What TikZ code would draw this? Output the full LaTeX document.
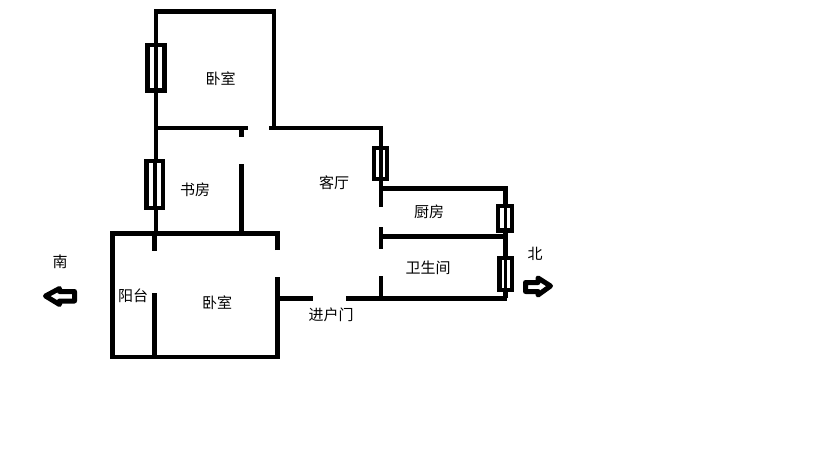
\documentclass[tikz,border=0pt]{standalone}
\usepackage{fontspec}
\newfontfamily\cjk{Noto Sans CJK SC}
\tikzset{
  wall/.style={line width=4.8pt,line cap=butt,line join=miter,black},
  win/.style={draw=black,fill=white,line width=4.4pt,line join=miter},
  arrowshape/.style={draw=black,fill=white,line width=5pt,line join=round},
  lbl/.style={font=\cjk\fontsize{15pt}{17pt}\selectfont,inner sep=0pt,text=black}
}
\begin{document}
\begin{tikzpicture}[x=1pt,y=-1pt]
\useasboundingbox[fill=white] (0,0) rectangle (819,460);
% top bedroom
\draw[wall] (247.7,128) -- (156,128);
\draw[wall] (156,233) -- (156,11.5) -- (274,11.5) -- (274,128);
\draw[wall] (269,128) -- (381,128) -- (381,206.7);
\draw[wall] (241.5,128) -- (241.5,137);
% study
\draw[wall] (241.5,164) -- (241.5,233);
% lower bedroom + balcony
\draw[wall] (277.3,250) -- (277.3,233.3) -- (112.7,233.3) -- (112.7,357) -- (277.3,357) -- (277.3,277);
\draw[wall] (154.7,233) -- (154.7,250.7);
\draw[wall] (154.7,293) -- (154.7,357);
\draw[wall] (277,298.3) -- (313,298.3);
% right part
\draw[wall] (346,298.3) -- (507,298.3);
\draw[wall] (381,188.3) -- (505.3,188.3) -- (505.3,298.3);
\draw[wall] (381,236.3) -- (507,236.3);
\draw[wall] (381,227.3) -- (381,249.3);
\draw[wall] (381,276) -- (381,298);
% windows
\draw[win] (147.5,45.2) rectangle (164.5,90.5);
\draw[wall] (156,45) -- (156,90.7);
\draw[win] (146.5,161.2) rectangle (162.8,207.8);
\draw[wall] (155,161) -- (155,208);
\draw[win] (374.2,148.2) rectangle (386.8,178.8);
\draw[wall,line width=3.6pt] (380.7,148) -- (380.7,179);
\draw[win] (498.2,206.2) rectangle (511.8,230.5);
\draw[wall,line width=3.6pt] (505.3,206) -- (505.3,230.7);
\draw[win] (499.5,258.2) rectangle (511.8,289.8);
\draw[wall,line width=3.6pt] (505.5,258) -- (505.5,290);
% arrows
\draw[arrowshape] (45.5,296) -- (59.5,288.5) -- (59.5,291.5) -- (74.5,291.5) -- (74.5,301) -- (59.5,301) -- (59.5,304.5) -- cycle;
\draw[arrowshape] (550.5,286) -- (538,278) -- (538,282.5) -- (525.5,282.5) -- (525.5,291.5) -- (538,291.5) -- (538,295) -- cycle;
% labels
\node[lbl] (bed1) at (220.5,79) {卧室};
\node[lbl] (study) at (195,190) {书房};
\node[lbl] (living) at (334,183) {客厅};
\node[lbl] (kitchen) at (429,212) {厨房};
\node[lbl] (bath) at (428,268) {卫生间};
\node[lbl] (south) at (60,262) {南};
\node[lbl] (north) at (535,254) {北};
\node[lbl] (balcony) at (133,296) {阳台};
\node[lbl] (bed2) at (217,303) {卧室};
\node[lbl] (entry) at (331,315) {进户门};
\end{tikzpicture}
\end{document}
